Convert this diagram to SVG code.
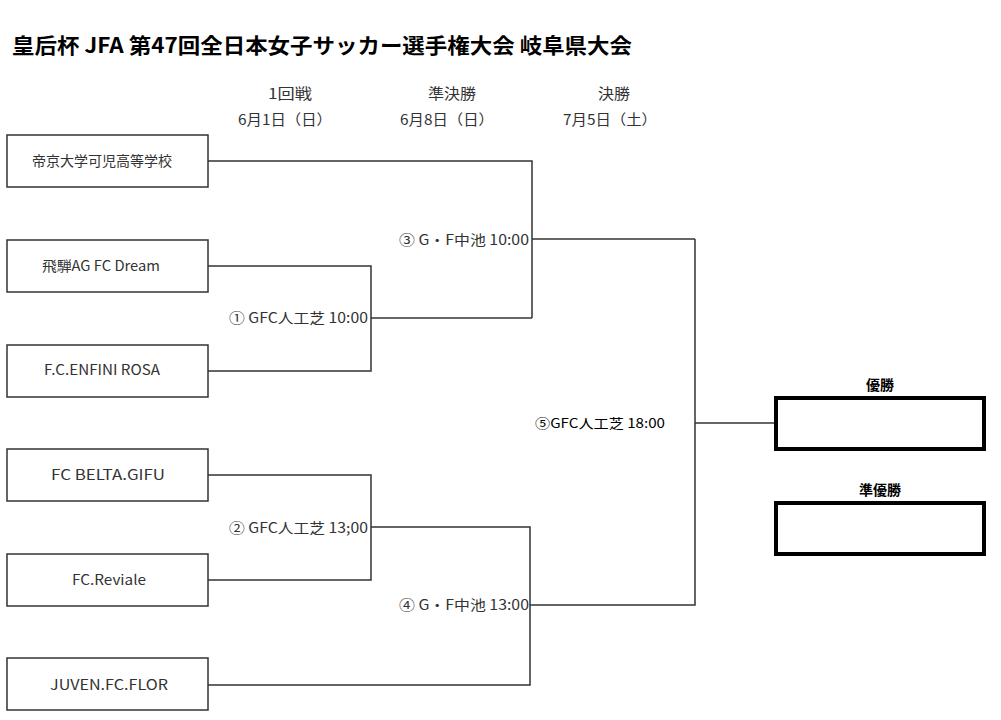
<svg xmlns="http://www.w3.org/2000/svg" width="1001" height="720" viewBox="0 0 1001 720">
<style>
text{font-family:"Noto Sans CJK JP","Noto Sans",sans-serif;fill:#333}
.team rect{fill:#fff;stroke:#333;stroke-width:1.5}
.team text{font-size:14px;text-anchor:middle}
.lbl{font-size:14px;text-anchor:end}
.hdr{font-size:14.5px;text-anchor:middle}
.res rect{fill:#fff;stroke:#000;stroke-width:4}
.res text{font-size:14px;font-weight:bold;text-anchor:middle;fill:#000}
#connectors path{fill:none;stroke:#333;stroke-width:1.5}
</style>
<rect width="1001" height="720" fill="#fff"/>
<text x="12" y="53" style="font-size:21px;font-weight:bold;fill:#000" textLength="620" lengthAdjust="spacingAndGlyphs">皇后杯 JFA 第47回全日本女子サッカー選手権大会 岐阜県大会</text>
<g id="headers">
<text class="hdr" x="290" y="99" textLength="44" lengthAdjust="spacingAndGlyphs">1回戦</text>
<text class="hdr" x="285" y="125" textLength="94" lengthAdjust="spacingAndGlyphs">6月1日（日）</text>
<text class="hdr" x="452" y="99" textLength="48" lengthAdjust="spacingAndGlyphs">準決勝</text>
<text class="hdr" x="447" y="125" textLength="94" lengthAdjust="spacingAndGlyphs">6月8日（日）</text>
<text class="hdr" x="614" y="99" textLength="32" lengthAdjust="spacingAndGlyphs">決勝</text>
<text class="hdr" x="610" y="125" textLength="94" lengthAdjust="spacingAndGlyphs">7月5日（土）</text>
</g>
<g id="connectors">
<path d="M208,161H532V318"/>
<path d="M208,266H371V371H208"/>
<path d="M371,318H532"/>
<path d="M532,239H695"/>
<path d="M208,475H371V580H208"/>
<path d="M371,527H530V685H208"/>
<path d="M530,605H695V239"/>
<path d="M695,423H775"/>
</g>
<g id="team1" class="team"><rect x="7" y="135" width="201" height="52"/><text x="102" y="166" textLength="140" lengthAdjust="spacingAndGlyphs">帝京大学可児高等学校</text></g>
<g id="team2" class="team"><rect x="7" y="240" width="201" height="52"/><text x="101" y="271" textLength="118" lengthAdjust="spacingAndGlyphs">飛騨AG FC Dream</text></g>
<g id="team3" class="team"><rect x="7" y="345" width="201" height="52"/><text x="102" y="375" textLength="116" lengthAdjust="spacingAndGlyphs">F.C.ENFINI ROSA</text></g>
<g id="team4" class="team"><rect x="7" y="449" width="201" height="52"/><text x="108" y="480" textLength="114" lengthAdjust="spacingAndGlyphs">FC BELTA.GIFU</text></g>
<g id="team5" class="team"><rect x="7" y="554" width="201" height="52"/><text x="109" y="585" textLength="74" lengthAdjust="spacingAndGlyphs">FC.Reviale</text></g>
<g id="team6" class="team"><rect x="7" y="658" width="201" height="52"/><text x="109" y="690" textLength="118" lengthAdjust="spacingAndGlyphs">JUVEN.FC.FLOR</text></g>
<g id="labels">
<text class="lbl" x="529" y="245" textLength="130" lengthAdjust="spacingAndGlyphs">③ G・F中池 10:00</text>
<text class="lbl" x="368" y="323" textLength="139" lengthAdjust="spacingAndGlyphs">① GFC人工芝 10:00</text>
<text class="lbl" x="368" y="533" textLength="139" lengthAdjust="spacingAndGlyphs">② GFC人工芝 13;00</text>
<text class="lbl" x="529" y="610" textLength="130" lengthAdjust="spacingAndGlyphs">④ G・F中池 13:00</text>
<text x="535" y="428" style="font-size:13px;fill:#000" textLength="130" lengthAdjust="spacingAndGlyphs">⑤GFC人工芝 18:00</text>
</g>
<g id="winner" class="res"><text x="880" y="390">優勝</text><rect x="776" y="398" width="208" height="51"/></g>
<g id="runnerup" class="res"><text x="880" y="495">準優勝</text><rect x="776" y="503" width="208" height="51"/></g>
</svg>
